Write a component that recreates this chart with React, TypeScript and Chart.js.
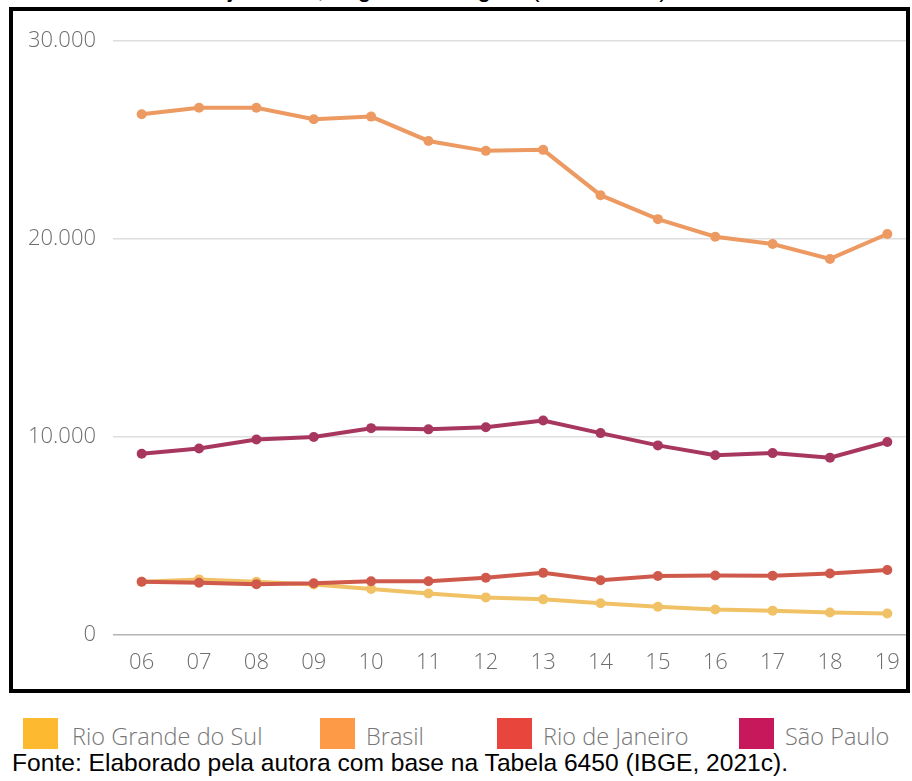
import { useEffect, useRef } from 'react';
import { Chart, registerables } from 'chart.js';

Chart.register(...registerables);

const years = ['06', '07', '08', '09', '10', '11', '12', '13', '14', '15', '16', '17', '18', '19'];
const brasil = [26310, 26640, 26640, 26060, 26190, 24960, 24460, 24510, 22220, 21010, 20120, 19750, 19000, 20260];
const saoPaulo = [9160, 9420, 9880, 10000, 10450, 10390, 10500, 10840, 10200, 9580, 9080, 9190, 8960, 9750];
const rioDeJaneiro = [2690, 2640, 2570, 2610, 2720, 2720, 2890, 3140, 2770, 2980, 3010, 2990, 3110, 3280];
const rioGrandeDoSul = [2690, 2810, 2690, 2550, 2320, 2100, 1900, 1800, 1600, 1430, 1290, 1230, 1140, 1090];
const yMax = 30000;
const yStep = 10000;

const legendItems = [
  { label: 'Rio Grande do Sul', color: '#fdb92f', left: 23, textLeft: 72 },
  { label: 'Brasil', color: '#fd9a48', left: 320, textLeft: 366 },
  { label: 'Rio de Janeiro', color: '#e8463c', left: 497, textLeft: 543 },
  { label: 'São Paulo', color: '#c8185c', left: 739, textLeft: 785 },
];

const fmt = (v: number) => String(v).replace(/\B(?=(\d{3})+(?!\d))/g, '.');

export default function App() {
  const ref = useRef<HTMLCanvasElement>(null);

  useEffect(() => {
    const tickFont = { family: "'Open Sans', sans-serif", size: 22, weight: 300 as any };
    const mk = (label: string, data: number[], color: string) => ({
      label,
      data,
      borderColor: color,
      backgroundColor: color,
      pointBackgroundColor: color,
      pointBorderColor: color,
      borderWidth: 4,
      pointRadius: 5,
      pointBorderWidth: 0,
      tension: 0,
    });
    const chart = new Chart(ref.current!, {
      type: 'line',
      data: {
        labels: years,
        datasets: [
          mk('São Paulo', saoPaulo, '#a8375f'),
          mk('Rio de Janeiro', rioDeJaneiro, '#cf5a4c'),
          mk('Rio Grande do Sul', rioGrandeDoSul, '#f1c265'),
          mk('Brasil', brasil, '#ec9a62'),
        ],
      },
      options: {
        responsive: false,
        animation: false,
        layout: { padding: { top: 29, left: 0, right: 0, bottom: 0 } },
        plugins: { legend: { display: false }, tooltip: { enabled: false } },
        scales: {
          x: {
            type: 'category',
            offset: true,
            grid: { display: false, drawTicks: false },
            border: { display: false },
            ticks: { font: tickFont, color: '#6e6e6e', padding: 15, maxRotation: 0, autoSkip: false },
            afterFit: (s: any) => { s.height = 54; },
          },
          y: {
            min: 0,
            max: yMax,
            grid: {
              color: (c: any) => (c.tick && c.tick.value === 0 ? '#b4b4b4' : '#dedede'),
              lineWidth: 1.5,
              drawTicks: false,
            },
            border: { display: false },
            ticks: {
              stepSize: yStep,
              font: tickFont,
              color: '#6e6e6e',
              padding: 17,
              callback: (v: any) => fmt(Number(v)),
            },
            afterFit: (s: any) => { s.width = 100; },
          },
        },
      },
    });
    return () => chart.destroy();
  }, []);

  return (
    <div style={{ position: 'fixed', left: 0, top: 0, width: 912, height: 781, background: '#fff', overflow: 'hidden' }}>
      <div
        style={{
          position: 'absolute', left: 195, top: -26, whiteSpace: 'nowrap',
          fontFamily: "'Liberation Sans', Arial, sans-serif", fontSize: 25, lineHeight: '28px', color: '#000',
        }}
      >
        alojamento, segundo a região (2006-2019)
      </div>
      <div
        style={{
          position: 'absolute', left: 9, top: 7, width: 893, height: 678,
          border: '4px solid #000', overflow: 'hidden', background: '#fff',
        }}
      >
        <canvas ref={ref} width={908} height={678} style={{ position: 'absolute', left: 0, top: 0, width: 908, height: 678 }} />
      </div>
      {legendItems.map((it) => (
        <div key={it.label}>
          <div style={{ position: 'absolute', left: it.left, top: 718, width: 35, height: 31, background: it.color }} />
          <div
            style={{
              position: 'absolute', left: it.textLeft, top: 720, whiteSpace: 'nowrap',
              fontFamily: "'Open Sans', sans-serif", fontWeight: 300, fontSize: 23.5, lineHeight: '32px', color: '#777',
            }}
          >
            {it.label}
          </div>
        </div>
      ))}
      <div
        style={{
          position: 'absolute', left: 12, top: 749, whiteSpace: 'nowrap',
          fontFamily: "'Liberation Sans', Arial, sans-serif", fontSize: 24.6, lineHeight: '28px', color: '#000',
        }}
      >
        Fonte: Elaborado pela autora com base na Tabela 6450 (IBGE, 2021c).
      </div>
    </div>
  );
}
